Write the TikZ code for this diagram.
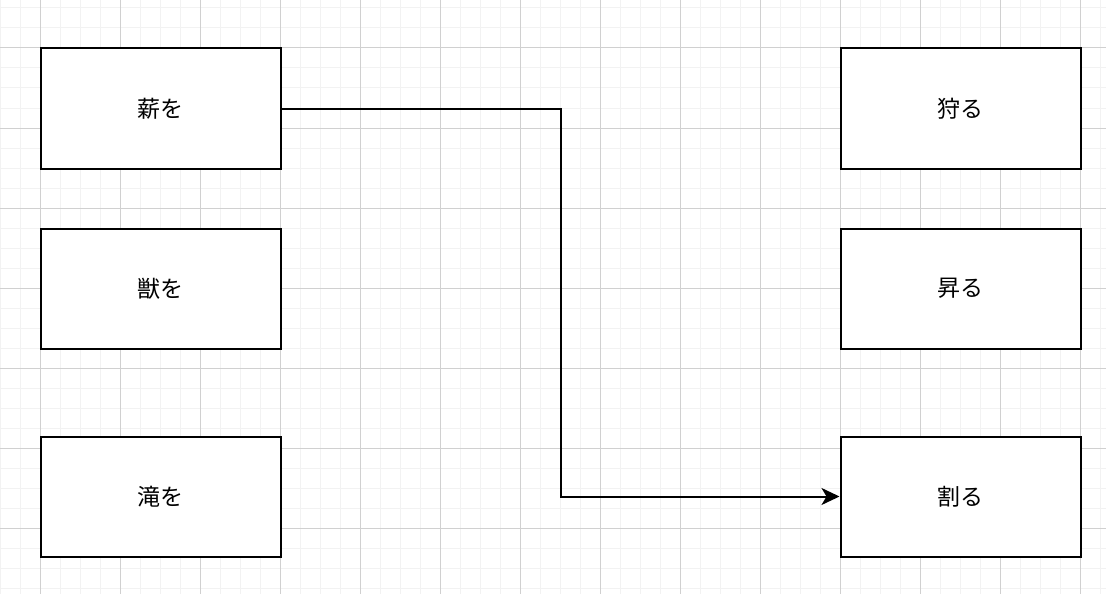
\documentclass[tikz,border=0pt]{standalone}
\usepackage{fontspec}
\newfontfamily\cjk{Noto Sans CJK JP}
\usetikzlibrary{arrows.meta}
\definecolor{minorgrid}{HTML}{F2F2F2}
\definecolor{majorgrid}{HTML}{D0D0D0}
\tikzset{
	box/.style={draw=black, fill=white, line width=2pt, minimum width=240pt, minimum height=120pt, inner sep=0pt, font=\cjk\fontsize{23}{23}\selectfont},
	link/.style={line width=2pt, -{Stealth[length=18pt, width=17pt, inset=5pt]}}
}
\begin{document}
\begin{tikzpicture}[x=1pt, y=-1pt, line join=miter]
	\useasboundingbox (0,0) rectangle (1106,594);
	% grid
	\foreach \x in {0,20,...,1100} \draw[minorgrid, line width=1pt] (\x,0) -- (\x,594);
	\foreach \y in {8,28,...,593} \draw[minorgrid, line width=1pt] (0,\y) -- (1106,\y);
	\foreach \x in {40,120,...,1100} \draw[majorgrid, line width=1pt] (\x,0) -- (\x,594);
	\foreach \y in {48,128,...,593} \draw[majorgrid, line width=1pt] (0,\y) -- (1106,\y);
	% boxes
	\node[box] (maki) at (160.5,108.5) {薪を};
	\node[box] (kemono) at (160.5,288.5) {獣を};
	\node[box] (taki) at (160.5,496.5) {滝を};
	\node[box] (karu) at (960.5,108.5) {狩る};
	\node[box] (noboru) at (960.5,288.5) {昇る};
	\node[box] (waru) at (960.5,496.5) {割る};
	\coordinate (bend) at (560.5,108.5);
	\draw[link] (maki.east) -- (bend) |- (waru.west);
\end{tikzpicture}
\end{document}
